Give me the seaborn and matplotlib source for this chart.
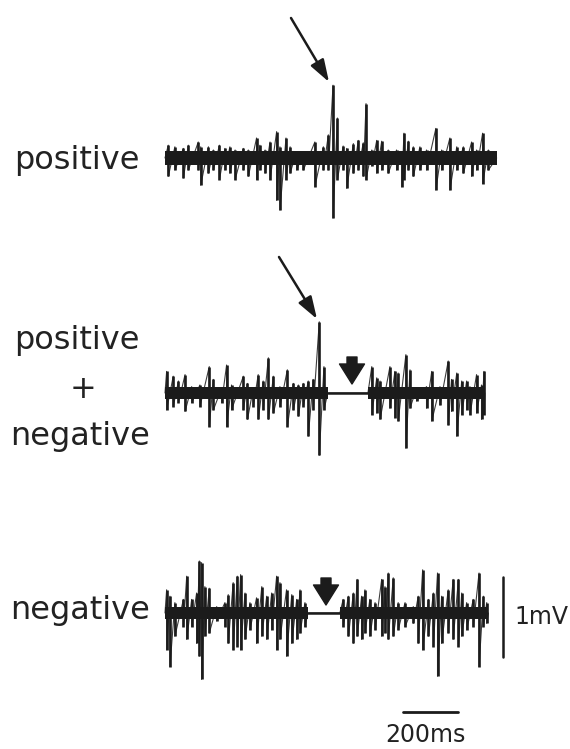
import numpy as np
import pandas as pd
import matplotlib.pyplot as plt
import seaborn as sns

# spike strokes: time (ms), upper and lower tip (mV)
pos_t = [12, 36, 67, 85, 121, 130, 158, 176, 198, 218, 236, 255, 285, 303, 333, 345, 364, 382,
         406, 418, 440, 455, 479, 503, 545, 576, 594, 611, 627, 648, 661, 685, 703, 721, 731,
         752, 770, 788, 812, 842, 861, 869, 885, 903, 927, 951, 985, 1006, 1036, 1061, 1085,
         1115, 1133, 1155, 1176]
pos_hi = [0.16, 0.14, 0.12, 0.16, 0.20, 0.14, 0.14, 0.10, 0.16, 0.12, 0.14, 0.10, 0.12, 0.10,
          0.25, 0.16, 0.10, 0.20, 0.33, 0.14, 0.25, 0.14, 0.08, 0.06, 0.20, 0.14, 0.29, 0.91,
          0.50, 0.15, 0.12, 0.18, 0.22, 0.19, 0.68, 0.10, 0.22, 0.21, 0.10, 0.10, 0.08, 0.31,
          0.21, 0.14, 0.14, 0.10, 0.37, 0.10, 0.25, 0.14, 0.14, 0.20, 0.10, 0.31, 0.10]
pos_lo = [-0.23, -0.15, -0.25, -0.15, -0.15, -0.34, -0.19, -0.15, -0.27, -0.15, -0.19, -0.27,
          -0.15, -0.23, -0.27, -0.15, -0.19, -0.27, -0.53, -0.65, -0.27, -0.19, -0.15, -0.15,
          -0.36, -0.15, -0.15, -0.75, -0.27, -0.15, -0.38, -0.19, -0.15, -0.23, -0.27, -0.10,
          -0.19, -0.15, -0.19, -0.15, -0.36, -0.27, -0.15, -0.23, -0.15, -0.15, -0.40, -0.15,
          -0.40, -0.15, -0.19, -0.23, -0.15, -0.32, -0.15]
pos_end = 1206

mix_t = [6, 30, 49, 73, 97, 127, 161, 176, 206, 224, 242, 285, 300, 321, 339, 357, 376, 394,
         418, 445, 467, 485, 503, 521, 539, 561, 578,
         752, 770, 782, 818, 836, 848, 876, 891, 915, 951, 970, 1000, 1030, 1042, 1061, 1079,
         1097, 1109, 1133, 1151, 1160]
mix_hi = [0.27, 0.21, 0.15, 0.23, 0.08, 0.10, 0.33, 0.17, 0.06, 0.35, 0.10, 0.21, 0.12, 0.06,
          0.23, 0.15, 0.44, 0.21, 0.08, 0.29, 0.12, 0.10, 0.12, 0.15, 0.17, 0.89, 0.33,
          0.33, 0.19, 0.15, 0.33, 0.27, 0.25, 0.48, 0.29, 0.06, 0.08, 0.27, 0.08, 0.40, 0.17,
          0.25, 0.15, 0.15, 0.08, 0.23, 0.10, 0.27]
mix_lo = [-0.21, -0.17, -0.12, -0.23, -0.12, -0.17, -0.42, -0.21, -0.12, -0.42, -0.21, -0.21,
          -0.33, -0.17, -0.33, -0.21, -0.33, -0.25, -0.17, -0.42, -0.21, -0.29, -0.17, -0.54,
          -0.21, -0.78, -0.21,
          -0.27, -0.25, -0.33, -0.19, -0.31, -0.35, -0.69, -0.19, -0.10, -0.19, -0.35, -0.15,
          -0.40, -0.23, -0.54, -0.27, -0.21, -0.27, -0.25, -0.33, -0.27]
mix_flat = (592, 738)
mix_end = 1163

neg_t = [6, 18, 36, 67, 79, 97, 115, 125, 133, 145, 161, 188, 218, 230, 248, 263, 275, 291,
         309, 333, 352, 370, 388, 406, 418, 442, 461, 479, 491, 509,
         648, 667, 685, 699, 715, 727, 745, 764, 788, 800, 812, 830, 848, 873, 903, 921, 937,
         958, 976, 991, 1006, 1030, 1048, 1067, 1079, 1097, 1121, 1142, 1158, 1170]
neg_hi = [0.29, 0.21, 0.13, 0.17, 0.46, 0.17, 0.25, 0.65, 0.63, 0.33, 0.31, 0.08, 0.13, 0.23,
          0.38, 0.46, 0.48, 0.25, 0.13, 0.19, 0.33, 0.21, 0.25, 0.46, 0.38, 0.29, 0.23, 0.17,
          0.29, 0.13,
          0.17, 0.21, 0.25, 0.42, 0.21, 0.29, 0.17, 0.13, 0.42, 0.33, 0.50, 0.44, 0.13, 0.13,
          0.08, 0.21, 0.54, 0.17, 0.25, 0.50, 0.21, 0.29, 0.42, 0.42, 0.25, 0.13, 0.17, 0.50,
          0.21, 0.13]
neg_lo = [-0.46, -0.67, -0.29, -0.17, -0.33, -0.17, -0.38, -0.54, -0.83, -0.29, -0.25, -0.10,
          -0.17, -0.38, -0.46, -0.42, -0.46, -0.33, -0.21, -0.38, -0.29, -0.33, -0.21, -0.46,
          -0.33, -0.54, -0.38, -0.33, -0.25, -0.17,
          -0.17, -0.29, -0.38, -0.29, -0.33, -0.25, -0.29, -0.21, -0.29, -0.25, -0.33, -0.29,
          -0.21, -0.17, -0.13, -0.38, -0.46, -0.29, -0.42, -0.79, -0.38, -0.25, -0.33, -0.42,
          -0.29, -0.21, -0.17, -0.67, -0.17, -0.13]
neg_flat = (520, 636)
neg_end = 1176

W, H = 570, 749
ms_per_px = 200 / 55
px_per_mv = 80
x0 = 165

sns.set_theme(style="white")
plt.rcParams["font.family"] = ["DejaVu Sans"]
ink = "#1b1b1b"

fig = plt.figure(figsize=(W / 100, H / 100), dpi=100)
ax = fig.add_axes([0, 0, 1, 1])
ax.set_xlim(-x0 * ms_per_px, (W - x0) * ms_per_px)
ax.set_ylim(-H / px_per_mv, 0)
ax.axis("off")


def fp(x, y):
    return (x / W, 1 - y / H)


def draw_trace(t, hi, lo, end, off, band, flat=None):
    xs, ys = [0], [0]
    done = flat is None
    for ti, h, l in zip(t, hi, lo):
        if not done and ti > flat[0]:
            xs += [flat[0], flat[1]]
            ys += [0, 0]
            done = True
        xs += [ti, ti]
        ys += [h, l]
    xs.append(end)
    ys.append(0)
    df = pd.DataFrame({"t": xs, "v": np.array(ys) + off})
    sns.lineplot(data=df, x="t", y="v", sort=False, estimator=None, ax=ax,
                 color=ink, lw=0.8, alpha=0.85)
    ax.vlines(t, np.array(lo) + off, np.array(hi) + off, color=ink, lw=1.9)
    segs = [(0, end)] if flat is None else [(0, flat[0]), (flat[1], end)]
    for a, b in segs:
        ax.fill_between([a, b], off - band, off + band, color=ink, lw=0)
    if flat is not None:
        ax.plot(list(flat), [off, off], color=ink, lw=1.8)


draw_trace(pos_t, pos_hi, pos_lo, pos_end, -158 / px_per_mv, 0.085)
draw_trace(mix_t, mix_hi, mix_lo, mix_end, -393 / px_per_mv, 0.075, mix_flat)
draw_trace(neg_t, neg_hi, neg_lo, neg_end, -613 / px_per_mv, 0.08, neg_flat)

# scale bars
neg_off = -613 / px_per_mv
ax.plot([1229, 1229], [neg_off + 0.45, neg_off - 0.55], color=ink, lw=1.8)
ax.plot([865, 1065], [-712 / px_per_mv] * 2, color=ink, lw=2)

# labels
lab = dict(fontsize=23, color="#222", ha="center", va="center")
fig.text(*fp(77, 160), "positive", **lab)
fig.text(*fp(77, 340), "positive", **lab)
fig.text(*fp(83, 390), "+", **lab)
fig.text(*fp(80, 437), "negative", **lab)
fig.text(*fp(80, 610), "negative", **lab)
fig.text(*fp(541, 617), "1mV", fontsize=17, color="#222", ha="center", va="center")
fig.text(*fp(425, 735), "200ms", fontsize=17, color="#222", ha="center", va="center")

# arrows
for start, tip in [((291, 18), (329, 82)), ((279, 257), (317, 319))]:
    ax.annotate("", xy=fp(*tip), xytext=fp(*start), xycoords="figure fraction",
                arrowprops=dict(arrowstyle="-|>,head_width=0.3,head_length=0.9",
                                lw=1.8, color=ink, mutation_scale=15, shrinkA=0, shrinkB=0))
for x, y1, y2 in [(352, 357, 384), (326, 578, 605)]:
    ax.annotate("", xy=fp(x, y2), xytext=fp(x, y1), xycoords="figure fraction",
                arrowprops=dict(arrowstyle="simple,head_width=1.0,head_length=0.8,tail_width=0.4",
                                color=ink, mutation_scale=18, shrinkA=0, shrinkB=0))

plt.savefig("out.png", dpi=100)
